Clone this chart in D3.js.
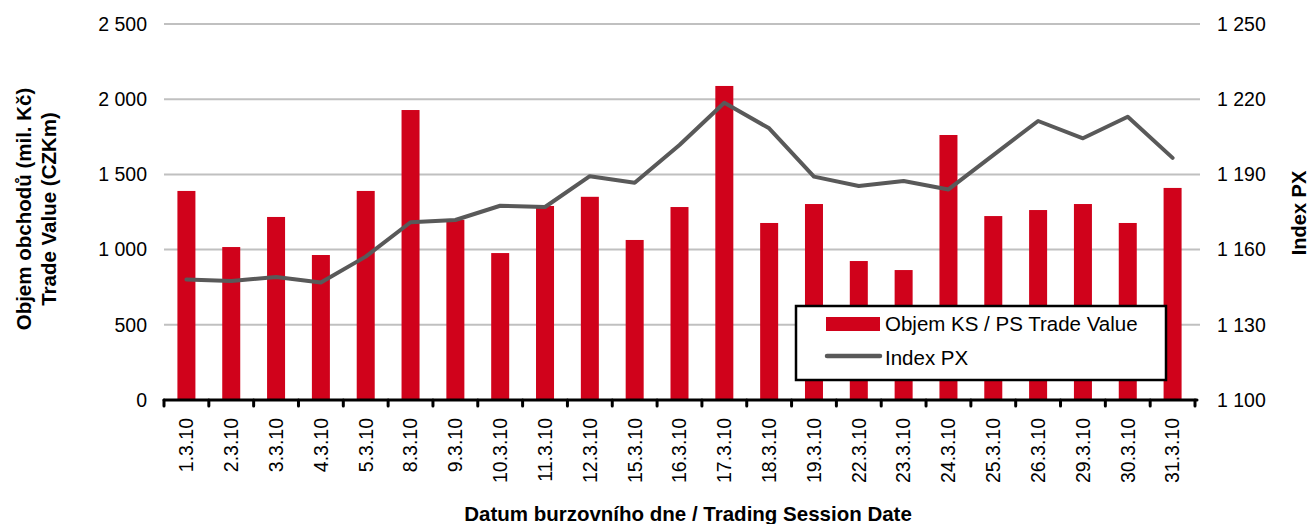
<!DOCTYPE html>
<html>
<head>
	<meta charset="UTF-8">
	<style>
		body { margin: 0; background: #fff; }
		svg { font-family: "Liberation Sans", Arial, sans-serif; }
		.grid line { stroke: #c0c0c0; stroke-width: 2; }
		.tick text { fill: #000; }
	</style>
</head>
<body>
	<script src="https://cdn.jsdelivr.net/npm/d3@7"></script>
	<script>
		const dates = ['1.3.10','2.3.10','3.3.10','4.3.10','5.3.10','8.3.10','9.3.10','10.3.10','11.3.10','12.3.10',
			'15.3.10','16.3.10','17.3.10','18.3.10','19.3.10','22.3.10','23.3.10','24.3.10','25.3.10','26.3.10',
			'29.3.10','30.3.10','31.3.10'];
		const tradeValue = [1390, 1017, 1217, 964, 1390, 1928, 1198, 977, 1290, 1351,
			1064, 1283, 2088, 1177, 1303, 924, 864, 1762, 1223, 1263,
			1303, 1177, 1410];
		const indexPX = [1148.1, 1147.5, 1149.1, 1146.9, 1157.2, 1170.9, 1171.8, 1177.5, 1177.0, 1189.3,
			1186.7, 1201.7, 1218.6, 1208.4, 1189.1, 1185.4, 1187.4, 1184.0, 1197.7, 1211.3,
			1204.4, 1213.0, 1196.6];
		const leftTicks = [0, 500, 1000, 1500, 2000, 2500];
		const rightTicks = [1100, 1130, 1160, 1190, 1220, 1250];

		const width = 1311, height = 524;
		const plot = {left: 164, right: 1195, top: 24, bottom: 400};
		const tickFont = '19.5px';
		const titleFont = '20.5px';

		const fmt = d3.formatLocale({decimal: ',', thousands: '\u00a0', grouping: [3], currency: ['', '']}).format(',d');

		const svg = d3.select('body').append('svg')
			.attr('width', width)
			.attr('height', height);

		const xb = d3.scaleBand().domain(dates).range([plot.left, plot.right]);
		const y = d3.scaleLinear().domain([0, 2500]).range([plot.bottom, plot.top]);
		const y2 = d3.scaleLinear().domain([1100, 1250]).range([plot.bottom, plot.top]);

		// gridlines
		svg.append('g')
			.attr('class', 'grid')
			.selectAll('line')
			.data(leftTicks.slice(1))
			.enter().append('line')
				.attr('x1', plot.left).attr('x2', plot.right + 5)
				.attr('y1', d => y(d)).attr('y2', d => y(d));

		// axis labels
		const yAxis = d3.axisLeft(y).tickValues(leftTicks).tickFormat(fmt).tickSize(0).tickPadding(17);
		svg.append('g')
			.attr('transform', `translate(${plot.left},0)`)
			.call(yAxis)
			.call(g => g.select('.domain').remove())
			.selectAll('text').style('font-size', tickFont).style('font-family', '"Liberation Sans", Arial, sans-serif');

		const y2Axis = d3.axisRight(y2).tickValues(rightTicks).tickFormat(fmt).tickSize(0).tickPadding(22);
		svg.append('g')
			.attr('transform', `translate(${plot.right},0)`)
			.call(y2Axis)
			.call(g => g.select('.domain').remove())
			.selectAll('text').style('font-size', tickFont).style('font-family', '"Liberation Sans", Arial, sans-serif');

		// bars
		svg.append('g')
			.selectAll('rect')
			.data(tradeValue)
			.enter().append('rect')
				.attr('x', (d, i) => xb(dates[i]) + xb.bandwidth() / 2 - 9)
				.attr('width', 18)
				.attr('y', d => y(d))
				.attr('height', d => plot.bottom - y(d))
				.attr('fill', '#d0021b');

		// x axis
		const xAxis = d3.axisBottom(xb).tickSize(0).tickPadding(0);
		const gx = svg.append('g')
			.attr('transform', `translate(0,${plot.bottom})`)
			.call(xAxis);
		gx.select('.domain').remove();
		gx.selectAll('.tick text')
			.attr('transform', 'rotate(-90)')
			.attr('x', -18)
			.attr('y', 0)
			.attr('dy', '0.35em')
			.style('text-anchor', 'end')
			.style('font-size', tickFont)
			.style('font-family', '"Liberation Sans", Arial, sans-serif');

		const boundaries = dates.map(d => xb(d)).concat([plot.right]);
		svg.append('g')
			.selectAll('line')
			.data(boundaries)
			.enter().append('line')
				.attr('x1', d => d).attr('x2', d => d)
				.attr('y1', plot.bottom).attr('y2', plot.bottom + 6)
				.attr('stroke', '#000').attr('stroke-width', 3).attr('stroke-linecap', 'round');
		svg.append('line')
			.attr('x1', plot.left).attr('x2', plot.right + 2)
			.attr('y1', plot.bottom).attr('y2', plot.bottom)
			.attr('stroke', '#000').attr('stroke-width', 3).attr('stroke-linecap', 'round');

		// index line
		const line = d3.line()
			.x((d, i) => xb(dates[i]) + xb.bandwidth() / 2)
			.y(d => y2(d));
		svg.append('path')
			.datum(indexPX)
			.attr('d', line)
			.attr('fill', 'none')
			.attr('stroke', '#595959')
			.attr('stroke-width', 4)
			.attr('stroke-linejoin', 'round')
			.attr('stroke-linecap', 'round');

		// legend
		const lg = svg.append('g').attr('transform', 'translate(796,306)');
		lg.append('rect')
			.attr('width', 370).attr('height', 74)
			.attr('fill', '#fff').attr('stroke', '#000').attr('stroke-width', 2.5);
		lg.append('rect')
			.attr('x', 30).attr('y', 11).attr('width', 54).attr('height', 14)
			.attr('fill', '#d0021b');
		lg.append('text')
			.attr('x', 89).attr('y', 25)
			.style('font-size', titleFont)
			.text('Objem KS / PS Trade Value');
		lg.append('line')
			.attr('x1', 31).attr('x2', 84).attr('y1', 50).attr('y2', 50)
			.attr('stroke', '#595959').attr('stroke-width', 4.5).attr('stroke-linecap', 'round');
		lg.append('text')
			.attr('x', 89).attr('y', 59)
			.style('font-size', titleFont)
			.text('Index PX');

		// titles
		svg.append('text')
			.attr('x', 688).attr('y', 521)
			.attr('text-anchor', 'middle')
			.style('font-size', titleFont).style('font-weight', 'bold')
			.text('Datum burzovního dne / Trading Session Date');

		const lt = svg.append('text')
			.attr('transform', 'translate(0,209) rotate(-90)')
			.attr('text-anchor', 'middle')
			.style('font-size', titleFont).style('font-weight', 'bold');
		lt.append('tspan').attr('x', 0).attr('y', 31).text('Objem obchodů (mil. Kč)');
		lt.append('tspan').attr('x', 0).attr('y', 56).text('Trade Value (CZKm)');

		svg.append('text')
			.attr('transform', 'translate(1306,213) rotate(-90)')
			.attr('text-anchor', 'middle')
			.style('font-size', '20px').style('font-weight', 'bold')
			.text('Index PX');
	</script>
</body>
</html>
